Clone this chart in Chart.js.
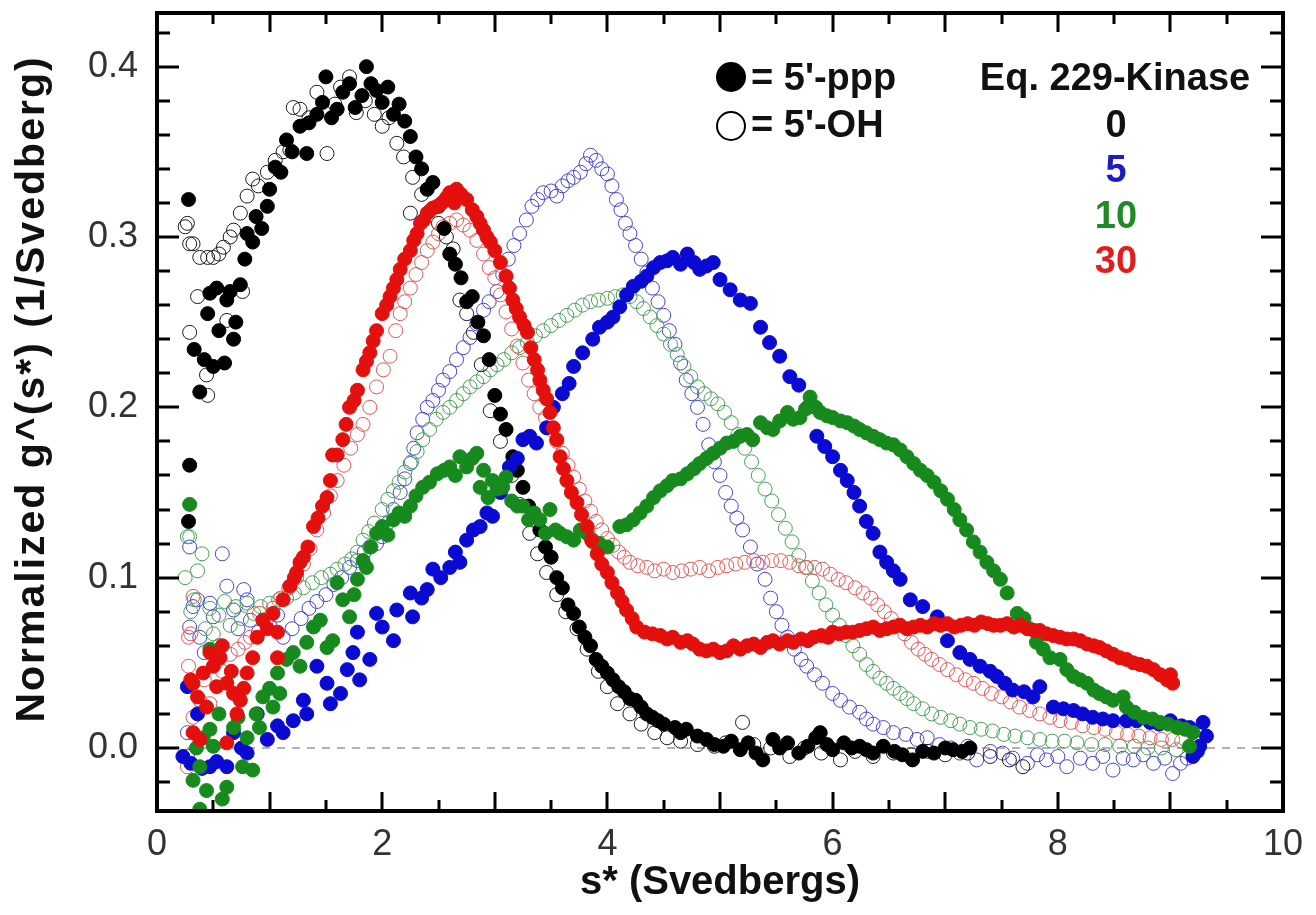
<!DOCTYPE html>
<html>
<head>
<meta charset="utf-8">
<title>g(s*) distributions</title>
<script src="https://cdn.jsdelivr.net/npm/chart.js@4"></script>
<style>
  html, body { margin: 0; padding: 0; background: #fff; }
  canvas { display: block; }
</style>
</head>
<body>
<canvas id="gs" width="1316" height="915"></canvas>
<script>
// s* (Svedbergs) vs normalized g^(s*), pairs of [s, g]
// filled = 5'-ppp, open = 5'-OH, one pair per kinase equivalent (0, 5, 10, 30)

const ppp0 = [[0.28,0.322],[0.29,0.166],[0.28,0.133],[0.33,0.234],[0.38,0.209],[0.42,0.228],[0.45,0.255],[0.47,0.267],[0.5,0.224],[0.53,0.27],[0.55,0.245],[0.6,0.226],[0.62,0.263],[0.65,0.268],[0.68,0.24],[0.7,0.25],[0.74,0.272],[0.78,0.287],[0.8,0.302],[0.85,0.297],[0.88,0.312],[0.93,0.305],[0.98,0.318],[1.0,0.328],[1.05,0.341],[1.1,0.338],[1.15,0.357],[1.2,0.35],[1.27,0.365],[1.33,0.349],[1.35,0.367],[1.42,0.372],[1.47,0.379],[1.5,0.394],[1.55,0.37],[1.6,0.375],[1.65,0.385],[1.71,0.39],[1.76,0.376],[1.82,0.383],[1.86,0.4],[1.9,0.39],[1.95,0.386],[2.0,0.379],[2.05,0.388],[2.1,0.372],[2.15,0.378],[2.2,0.368],[2.25,0.359],[2.3,0.347],[2.35,0.34],[2.4,0.328],[2.45,0.332],[2.5,0.318],[2.55,0.305],[2.6,0.29],[2.65,0.284],[2.7,0.276],[2.75,0.262],[2.8,0.265],[2.85,0.25],[2.9,0.242],[2.95,0.228],[3.0,0.207],[3.05,0.196],[3.1,0.187],[3.16,0.171],[3.2,0.163],[3.25,0.153],[3.3,0.142],[3.35,0.136],[3.4,0.128],[3.45,0.118],[3.5,0.112],[3.55,0.1],[3.6,0.094],[3.65,0.084],[3.7,0.079],[3.75,0.071],[3.8,0.065],[3.85,0.06],[3.9,0.052],[3.95,0.048],[4.0,0.044],[4.05,0.04],[4.1,0.036],[4.15,0.033],[4.2,0.029],[4.25,0.028],[4.3,0.024],[4.35,0.02],[4.4,0.018],[4.45,0.016],[4.5,0.014],[4.6,0.012],[4.65,0.009],[4.7,0.011],[4.8,0.007],[4.88,0.005],[4.95,0.002],[5.03,0.001],[5.1,0.004],[5.18,-0.001],[5.25,0.003],[5.32,-0.003],[5.38,-0.007],[5.47,0.005],[5.53,0.0],[5.6,0.003],[5.7,-0.003],[5.78,0.001],[5.85,0.006],[5.89,0.009],[5.95,0.002],[6.0,-0.001],[6.1,0.003],[6.17,0.0],[6.24,0.001],[6.3,-0.001],[6.36,-0.003],[6.45,0.001],[6.55,-0.002],[6.62,-0.004],[6.71,-0.007],[6.8,-0.002],[6.9,-0.003],[7.0,0.0],[7.07,-0.001],[7.15,-0.002],[7.22,0.0]];

const oh0 = [[0.25,0.306],[0.27,0.308],[0.29,0.244],[0.29,0.296],[0.32,0.296],[0.36,0.265],[0.38,0.288],[0.44,0.219],[0.45,0.207],[0.45,0.288],[0.5,0.288],[0.55,0.29],[0.59,0.294],[0.62,0.251],[0.65,0.3],[0.68,0.304],[0.74,0.314],[0.76,0.268],[0.8,0.324],[0.85,0.334],[0.9,0.33],[0.98,0.338],[1.05,0.345],[1.12,0.35],[1.18,0.351],[1.21,0.376],[1.27,0.375],[1.35,0.37],[1.42,0.385],[1.51,0.349],[1.58,0.378],[1.63,0.388],[1.71,0.394],[1.77,0.373],[1.85,0.38],[1.93,0.372],[2.0,0.365],[2.06,0.37],[2.13,0.355],[2.19,0.347],[2.25,0.314],[2.27,0.335],[2.35,0.325],[2.42,0.315],[2.5,0.308],[2.57,0.3],[2.63,0.293],[2.69,0.263],[2.75,0.255],[2.81,0.244],[2.88,0.225],[2.96,0.198],[3.05,0.18],[3.15,0.16],[3.22,0.143],[3.31,0.126],[3.38,0.114],[3.46,0.103],[3.55,0.09],[3.63,0.08],[3.73,0.07],[3.82,0.058],[3.92,0.045],[4.0,0.036],[4.09,0.026],[4.2,0.02],[4.3,0.014],[4.42,0.009],[4.53,0.006],[4.65,0.004],[4.8,0.002],[4.95,0.001],[5.05,0.003],[5.2,0.015],[5.3,0.002],[5.45,0.0],[5.62,-0.005],[5.75,0.0],[5.9,-0.003],[6.07,-0.007],[6.2,-0.002],[6.36,-0.005],[6.54,-0.003],[6.7,-0.004],[6.85,-0.002],[7.0,-0.004],[7.2,-0.003],[7.4,-0.005],[7.57,-0.007],[7.69,-0.011]];

const ppp5 = [[0.23,-0.005],[0.27,0.036],[0.3,-0.009],[0.36,0.02],[0.4,-0.012],[0.47,-0.011],[0.53,-0.008],[0.62,-0.011],[0.68,0.009],[0.75,0.0],[0.8,-0.003],[0.89,0.02],[0.98,0.005],[1.07,0.013],[1.12,0.009],[1.21,0.016],[1.3,0.028],[1.33,0.02],[1.42,0.048],[1.51,0.038],[1.54,0.026],[1.63,0.032],[1.69,0.046],[1.74,0.056],[1.78,0.068],[1.8,0.04],[1.89,0.052],[1.95,0.079],[2.0,0.071],[2.1,0.063],[2.13,0.081],[2.25,0.091],[2.27,0.077],[2.35,0.088],[2.4,0.093],[2.45,0.105],[2.52,0.1],[2.6,0.106],[2.65,0.115],[2.69,0.109],[2.75,0.122],[2.81,0.128],[2.87,0.13],[2.93,0.138],[2.98,0.136],[3.05,0.15],[3.13,0.165],[3.2,0.17],[3.25,0.181],[3.31,0.183],[3.37,0.179],[3.46,0.188],[3.52,0.2],[3.6,0.208],[3.66,0.214],[3.7,0.224],[3.78,0.232],[3.87,0.24],[3.93,0.247],[4.0,0.25],[4.05,0.253],[4.11,0.259],[4.17,0.266],[4.23,0.271],[4.3,0.274],[4.35,0.277],[4.41,0.282],[4.47,0.285],[4.53,0.286],[4.58,0.288],[4.65,0.284],[4.71,0.29],[4.77,0.285],[4.82,0.281],[4.88,0.283],[4.94,0.285],[5.0,0.275],[5.09,0.269],[5.18,0.263],[5.27,0.261],[5.36,0.247],[5.44,0.238],[5.53,0.23],[5.62,0.218],[5.7,0.213],[5.78,0.2],[5.86,0.183],[5.93,0.177],[6.0,0.171],[6.07,0.163],[6.13,0.157],[6.19,0.15],[6.24,0.142],[6.3,0.133],[6.36,0.126],[6.42,0.115],[6.48,0.109],[6.54,0.104],[6.6,0.099],[6.69,0.087],[6.8,0.083],[6.93,0.077],[7.02,0.063],[7.13,0.056],[7.22,0.052],[7.31,0.048],[7.4,0.045],[7.46,0.042],[7.53,0.038],[7.6,0.034],[7.7,0.033],[7.78,0.03],[7.84,0.036],[7.96,0.024],[8.05,0.023],[8.14,0.022],[8.22,0.02],[8.31,0.018],[8.4,0.017],[8.49,0.016],[8.61,0.016],[8.7,0.016],[8.82,0.015],[8.9,0.014],[9.0,0.016],[9.1,0.013],[9.17,0.012],[9.2,-0.005],[9.24,-0.002],[9.26,0.001],[9.29,0.015],[9.32,0.007]];

const oh5 = [[0.27,0.009],[0.27,-0.005],[0.29,0.118],[0.29,0.071],[0.32,0.083],[0.36,0.087],[0.38,0.065],[0.42,0.056],[0.47,0.085],[0.5,0.077],[0.55,0.06],[0.58,0.114],[0.62,0.095],[0.68,0.081],[0.72,0.07],[0.77,0.093],[0.8,0.087],[0.83,0.075],[0.9,0.068],[1.0,0.072],[1.07,0.078],[1.12,0.065],[1.2,0.07],[1.28,0.076],[1.35,0.082],[1.42,0.086],[1.5,0.09],[1.57,0.096],[1.64,0.1],[1.71,0.106],[1.78,0.11],[1.84,0.115],[1.89,0.118],[1.95,0.12],[2.0,0.124],[2.05,0.132],[2.1,0.14],[2.16,0.15],[2.2,0.158],[2.25,0.167],[2.28,0.176],[2.31,0.185],[2.36,0.193],[2.4,0.2],[2.45,0.204],[2.5,0.21],[2.54,0.216],[2.6,0.221],[2.66,0.228],[2.72,0.235],[2.78,0.241],[2.84,0.249],[2.9,0.257],[2.95,0.262],[3.02,0.268],[3.07,0.278],[3.12,0.287],[3.17,0.295],[3.22,0.302],[3.28,0.31],[3.33,0.318],[3.38,0.322],[3.43,0.326],[3.5,0.327],[3.55,0.324],[3.6,0.33],[3.65,0.333],[3.7,0.335],[3.76,0.338],[3.81,0.343],[3.85,0.348],[3.9,0.345],[3.95,0.34],[4.0,0.337],[4.04,0.33],[4.08,0.322],[4.12,0.316],[4.16,0.308],[4.2,0.302],[4.25,0.295],[4.3,0.287],[4.35,0.279],[4.4,0.27],[4.45,0.262],[4.5,0.254],[4.55,0.245],[4.6,0.237],[4.65,0.226],[4.7,0.216],[4.75,0.208],[4.8,0.2],[4.85,0.19],[4.9,0.178],[4.95,0.168],[5.0,0.16],[5.05,0.15],[5.1,0.142],[5.15,0.135],[5.2,0.128],[5.27,0.118],[5.33,0.108],[5.4,0.099],[5.45,0.088],[5.5,0.08],[5.55,0.072],[5.6,0.065],[5.66,0.058],[5.72,0.052],[5.77,0.048],[5.84,0.043],[5.91,0.038],[6.0,0.032],[6.07,0.028],[6.15,0.024],[6.24,0.021],[6.3,0.017],[6.36,0.014],[6.45,0.012],[6.54,0.009],[6.65,0.008],[6.75,0.005],[6.84,0.006],[6.95,0.002],[7.05,0.0],[7.13,-0.003],[7.2,0.001],[7.28,-0.007],[7.4,-0.002],[7.51,-0.003],[7.6,-0.006],[7.73,-0.009],[7.82,-0.004],[7.9,-0.007],[8.0,-0.005],[8.08,-0.011],[8.2,-0.006],[8.31,-0.009],[8.4,-0.005],[8.49,-0.013],[8.58,-0.006],[8.67,-0.007],[8.76,-0.004],[8.85,-0.009],[8.95,-0.006],[9.02,-0.015],[9.09,-0.009],[9.15,-0.006]];

const ppp10 = [[0.29,0.143],[0.32,-0.019],[0.35,0.0],[0.38,-0.036],[0.38,-0.011],[0.41,0.006],[0.44,-0.025],[0.47,0.011],[0.47,0.058],[0.5,0.001],[0.55,0.02],[0.58,-0.03],[0.62,-0.023],[0.68,0.012],[0.72,0.018],[0.76,-0.011],[0.8,0.006],[0.85,-0.013],[0.88,0.02],[0.91,0.012],[0.94,0.03],[1.0,0.035],[1.03,0.024],[1.07,0.044],[1.09,0.032],[1.15,0.052],[1.21,0.056],[1.27,0.048],[1.33,0.062],[1.39,0.071],[1.45,0.075],[1.51,0.059],[1.56,0.063],[1.6,0.097],[1.65,0.087],[1.71,0.077],[1.75,0.09],[1.78,0.099],[1.83,0.11],[1.86,0.106],[1.9,0.118],[1.95,0.126],[2.0,0.13],[2.05,0.125],[2.1,0.134],[2.15,0.138],[2.2,0.136],[2.25,0.142],[2.3,0.148],[2.36,0.153],[2.42,0.156],[2.49,0.161],[2.55,0.163],[2.6,0.165],[2.65,0.16],[2.69,0.171],[2.75,0.165],[2.8,0.17],[2.84,0.173],[2.87,0.153],[2.9,0.163],[2.94,0.147],[2.98,0.157],[3.02,0.152],[3.07,0.153],[3.1,0.159],[3.15,0.145],[3.2,0.142],[3.25,0.142],[3.3,0.134],[3.35,0.138],[3.4,0.134],[3.45,0.126],[3.49,0.14],[3.54,0.128],[3.58,0.126],[3.64,0.124],[3.7,0.122],[3.76,0.128],[3.82,0.126],[3.87,0.121],[3.93,0.12],[4.0,0.118],[4.11,0.13],[4.17,0.131],[4.23,0.134],[4.29,0.138],[4.35,0.142],[4.41,0.147],[4.47,0.151],[4.53,0.154],[4.58,0.157],[4.65,0.158],[4.71,0.161],[4.77,0.164],[4.82,0.167],[4.88,0.17],[4.94,0.173],[5.0,0.176],[5.06,0.179],[5.12,0.18],[5.18,0.183],[5.24,0.184],[5.29,0.181],[5.36,0.191],[5.42,0.188],[5.47,0.187],[5.53,0.192],[5.6,0.197],[5.65,0.193],[5.71,0.194],[5.76,0.199],[5.8,0.206],[5.85,0.2],[5.89,0.197],[5.95,0.195],[6.0,0.194],[6.07,0.192],[6.13,0.191],[6.19,0.189],[6.24,0.187],[6.3,0.185],[6.36,0.183],[6.42,0.181],[6.48,0.179],[6.54,0.178],[6.6,0.175],[6.66,0.171],[6.72,0.167],[6.78,0.163],[6.84,0.16],[6.9,0.156],[6.96,0.151],[7.02,0.146],[7.08,0.14],[7.13,0.134],[7.19,0.128],[7.25,0.121],[7.31,0.115],[7.37,0.109],[7.43,0.104],[7.49,0.099],[7.55,0.091],[7.64,0.079],[7.7,0.076],[7.75,0.07],[7.81,0.062],[7.87,0.058],[7.93,0.053],[8.02,0.052],[8.08,0.046],[8.14,0.042],[8.2,0.04],[8.26,0.038],[8.32,0.034],[8.37,0.032],[8.43,0.03],[8.49,0.028],[8.58,0.03],[8.61,0.024],[8.68,0.021],[8.76,0.018],[8.84,0.017],[8.91,0.015],[8.98,0.014],[9.06,0.012],[9.13,0.011],[9.2,0.009],[9.17,0.001]];

const oh10 = [[0.25,0.1],[0.27,0.124],[0.29,0.124],[0.3,0.08],[0.33,0.087],[0.36,0.104],[0.4,0.114],[0.43,0.07],[0.47,0.082],[0.5,0.067],[0.55,0.078],[0.6,0.086],[0.65,0.072],[0.7,0.083],[0.75,0.076],[0.8,0.085],[0.86,0.079],[0.92,0.083],[1.0,0.085],[1.08,0.087],[1.15,0.088],[1.22,0.091],[1.3,0.094],[1.38,0.097],[1.46,0.1],[1.54,0.102],[1.6,0.105],[1.67,0.108],[1.73,0.111],[1.78,0.115],[1.83,0.122],[1.88,0.127],[1.93,0.132],[2.0,0.14],[2.05,0.146],[2.1,0.151],[2.15,0.156],[2.2,0.162],[2.26,0.168],[2.31,0.174],[2.36,0.181],[2.42,0.187],[2.48,0.193],[2.54,0.197],[2.6,0.2],[2.66,0.204],[2.72,0.208],[2.78,0.212],[2.84,0.215],[2.9,0.218],[2.96,0.222],[3.02,0.225],[3.08,0.228],[3.15,0.232],[3.22,0.235],[3.29,0.238],[3.36,0.242],[3.43,0.245],[3.5,0.248],[3.57,0.251],[3.64,0.254],[3.71,0.257],[3.78,0.26],[3.85,0.262],[3.92,0.263],[4.0,0.264],[4.07,0.265],[4.14,0.266],[4.2,0.265],[4.26,0.262],[4.32,0.258],[4.38,0.253],[4.44,0.248],[4.5,0.243],[4.56,0.237],[4.62,0.231],[4.68,0.224],[4.74,0.218],[4.8,0.212],[4.86,0.208],[4.92,0.205],[4.98,0.202],[5.04,0.197],[5.1,0.191],[5.16,0.184],[5.22,0.176],[5.28,0.168],[5.34,0.16],[5.4,0.152],[5.46,0.145],[5.52,0.137],[5.58,0.129],[5.64,0.121],[5.7,0.113],[5.76,0.106],[5.82,0.098],[5.88,0.091],[5.94,0.084],[6.0,0.078],[6.06,0.072],[6.12,0.066],[6.18,0.06],[6.24,0.055],[6.3,0.049],[6.36,0.045],[6.42,0.041],[6.48,0.038],[6.54,0.035],[6.6,0.032],[6.66,0.029],[6.72,0.026],[6.8,0.023],[6.88,0.02],[6.96,0.018],[7.05,0.016],[7.13,0.014],[7.22,0.012],[7.32,0.011],[7.42,0.01],[7.52,0.008],[7.62,0.007],[7.73,0.006],[7.84,0.005],[7.95,0.004],[8.06,0.004],[8.17,0.003],[8.3,0.002],[8.42,0.002],[8.55,0.001],[8.68,0.001],[8.8,0.0],[8.92,0.0],[9.05,-0.001]];

const ppp30 = [[0.3,0.04],[0.32,0.009],[0.32,0.038],[0.36,0.03],[0.38,0.005],[0.41,0.044],[0.44,0.024],[0.47,0.056],[0.5,0.048],[0.53,0.036],[0.56,0.053],[0.58,0.06],[0.62,0.038],[0.62,0.003],[0.66,0.045],[0.68,0.032],[0.71,0.02],[0.74,0.028],[0.77,0.035],[0.8,0.044],[0.85,0.053],[0.89,0.065],[0.94,0.075],[0.98,0.07],[1.03,0.079],[1.07,0.068],[1.07,0.053],[1.12,0.087],[1.18,0.095],[1.22,0.1],[1.24,0.103],[1.27,0.109],[1.3,0.112],[1.34,0.118],[1.39,0.13],[1.43,0.135],[1.47,0.142],[1.51,0.147],[1.54,0.157],[1.56,0.172],[1.6,0.172],[1.65,0.181],[1.68,0.19],[1.71,0.2],[1.75,0.204],[1.78,0.21],[1.83,0.222],[1.86,0.227],[1.89,0.232],[1.92,0.239],[1.95,0.245],[2.0,0.255],[2.04,0.26],[2.07,0.265],[2.1,0.27],[2.13,0.275],[2.16,0.281],[2.2,0.287],[2.25,0.292],[2.28,0.298],[2.31,0.302],[2.34,0.308],[2.37,0.31],[2.4,0.314],[2.45,0.317],[2.49,0.318],[2.53,0.32],[2.57,0.323],[2.6,0.326],[2.64,0.32],[2.66,0.328],[2.7,0.325],[2.75,0.322],[2.8,0.316],[2.84,0.312],[2.87,0.308],[2.9,0.304],[2.93,0.3],[2.96,0.297],[3.0,0.292],[3.05,0.285],[3.1,0.277],[3.13,0.27],[3.16,0.263],[3.19,0.258],[3.22,0.253],[3.26,0.248],[3.29,0.244],[3.32,0.235],[3.35,0.228],[3.38,0.222],[3.4,0.216],[3.43,0.21],[3.46,0.205],[3.49,0.197],[3.52,0.188],[3.55,0.181],[3.58,0.171],[3.61,0.164],[3.64,0.157],[3.68,0.15],[3.73,0.144],[3.77,0.137],[3.82,0.13],[3.86,0.122],[3.91,0.114],[3.95,0.108],[4.0,0.103],[4.04,0.097],[4.09,0.091],[4.13,0.086],[4.17,0.081],[4.22,0.076],[4.26,0.071],[4.33,0.068],[4.4,0.067],[4.47,0.066],[4.53,0.064],[4.58,0.065],[4.65,0.062],[4.71,0.063],[4.76,0.061],[4.82,0.058],[4.88,0.057],[4.94,0.058],[5.0,0.056],[5.06,0.057],[5.12,0.06],[5.18,0.058],[5.24,0.06],[5.3,0.061],[5.36,0.059],[5.42,0.062],[5.47,0.063],[5.53,0.061],[5.6,0.063],[5.65,0.062],[5.72,0.064],[5.78,0.063],[5.83,0.065],[5.9,0.066],[5.96,0.065],[6.0,0.068],[6.06,0.067],[6.12,0.068],[6.18,0.068],[6.24,0.069],[6.3,0.07],[6.36,0.071],[6.42,0.069],[6.48,0.07],[6.54,0.071],[6.6,0.072],[6.66,0.07],[6.72,0.071],[6.78,0.072],[6.84,0.071],[6.9,0.073],[6.96,0.072],[7.02,0.073],[7.08,0.071],[7.14,0.072],[7.2,0.073],[7.26,0.072],[7.32,0.074],[7.38,0.073],[7.43,0.072],[7.49,0.072],[7.55,0.073],[7.61,0.071],[7.67,0.072],[7.73,0.07],[7.79,0.069],[7.84,0.069],[7.9,0.067],[7.96,0.066],[8.02,0.065],[8.08,0.064],[8.14,0.064],[8.2,0.063],[8.26,0.061],[8.32,0.06],[8.37,0.059],[8.43,0.057],[8.49,0.055],[8.55,0.053],[8.61,0.052],[8.67,0.05],[8.73,0.049],[8.79,0.048],[8.85,0.046],[8.91,0.043],[8.97,0.04],[9.02,0.038],[9.0,0.043]];

const oh30 = [[0.27,-0.011],[0.28,0.065],[0.28,0.048],[0.3,0.067],[0.32,0.089],[0.32,0.018],[0.38,0.028],[0.42,0.04],[0.47,0.026],[0.52,0.05],[0.58,0.045],[0.65,0.055],[0.72,0.058],[0.78,0.062],[0.83,0.065],[0.91,0.079],[0.97,0.075],[1.03,0.082],[1.1,0.088],[1.17,0.094],[1.24,0.1],[1.3,0.108],[1.36,0.117],[1.42,0.128],[1.48,0.138],[1.54,0.148],[1.6,0.157],[1.66,0.166],[1.72,0.176],[1.78,0.184],[1.83,0.19],[1.89,0.2],[1.95,0.212],[2.01,0.222],[2.07,0.23],[2.12,0.245],[2.16,0.255],[2.2,0.262],[2.25,0.27],[2.3,0.278],[2.35,0.285],[2.4,0.292],[2.45,0.297],[2.5,0.302],[2.54,0.306],[2.6,0.308],[2.66,0.31],[2.72,0.307],[2.78,0.304],[2.84,0.298],[2.9,0.29],[2.95,0.282],[3.0,0.276],[3.05,0.266],[3.1,0.256],[3.15,0.246],[3.2,0.236],[3.25,0.226],[3.3,0.216],[3.35,0.208],[3.4,0.2],[3.45,0.194],[3.5,0.187],[3.55,0.18],[3.6,0.173],[3.65,0.166],[3.7,0.159],[3.75,0.152],[3.8,0.145],[3.85,0.139],[3.9,0.133],[3.95,0.128],[4.0,0.123],[4.05,0.119],[4.1,0.115],[4.15,0.112],[4.2,0.109],[4.27,0.107],[4.35,0.106],[4.42,0.104],[4.5,0.105],[4.58,0.103],[4.66,0.104],[4.74,0.105],[4.82,0.106],[4.9,0.104],[4.98,0.106],[5.06,0.107],[5.14,0.108],[5.22,0.109],[5.3,0.11],[5.38,0.109],[5.46,0.11],[5.54,0.11],[5.62,0.109],[5.7,0.107],[5.77,0.106],[5.84,0.106],[5.91,0.105],[5.98,0.102],[6.05,0.099],[6.12,0.097],[6.2,0.094],[6.27,0.091],[6.34,0.088],[6.4,0.084],[6.46,0.08],[6.52,0.076],[6.58,0.072],[6.64,0.067],[6.7,0.062],[6.76,0.058],[6.82,0.055],[6.88,0.052],[6.95,0.049],[7.02,0.046],[7.1,0.043],[7.18,0.04],[7.25,0.038],[7.33,0.035],[7.41,0.032],[7.5,0.03],[7.58,0.027],[7.66,0.024],[7.75,0.022],[7.84,0.02],[7.93,0.018],[8.02,0.016],[8.12,0.015],[8.22,0.013],[8.32,0.012],[8.42,0.011],[8.52,0.009],[8.62,0.008],[8.72,0.007],[8.82,0.006],[8.92,0.005],[9.02,0.005],[9.1,0.004]];

// axis labels
const xTickLabels = [0, 2, 4, 6, 8, 10];
const yTickLabels = [0.0, 0.1, 0.2, 0.3, 0.4];
const kinaseEq = ['0', '5', '10', '30'];

const FONT = '"Liberation Sans", Arial, Helvetica, sans-serif';
const COLORS = { black: '#000000', blue: '#0a0ad2', green: '#168a1c', red: '#e3100e' };
const OPEN = { black: '#1a1a1a', blue: '#4444d6', green: '#46a052', red: '#e65454' };

function toXY(pairs) {
    return pairs.map(p => ({ x: p[0], y: p[1] }));
}

function filled(pairs, c) {
    return { data: toXY(pairs), pointRadius: 7, pointBackgroundColor: c, pointBorderColor: c, pointBorderWidth: 1 };
}

function open(pairs, c) {
    return { data: toXY(pairs), pointRadius: 7, pointBackgroundColor: 'rgba(255,255,255,0)', pointBorderColor: c, pointBorderWidth: 1 };
}

// frame with inward ticks on all four sides, dashed zero line, legend block, axis titles
const framePlugin = {
    id: 'frame',
    beforeDatasetsDraw(chart) {
        const { ctx, chartArea: a, scales: { y } } = chart;
        const y0 = y.getPixelForValue(0);
        ctx.save();
        ctx.strokeStyle = '#b2b2b2';
        ctx.lineWidth = 2;
        ctx.setLineDash([8, 7]);
        ctx.beginPath();
        ctx.moveTo(a.left, y0);
        ctx.lineTo(a.right, y0);
        ctx.stroke();
        ctx.restore();
    },
    afterDatasetsDraw(chart) {
        const { ctx, chartArea: a, scales: { x, y } } = chart;
        ctx.save();
        ctx.strokeStyle = '#000';
        ctx.lineWidth = 3;
        ctx.beginPath();
        for (let i = 1; i < 20; i++) {
            const v = i / 2;
            const px = Math.round(x.getPixelForValue(v));
            const len = i % 2 === 0 ? 19 : 11;
            ctx.moveTo(px, a.bottom); ctx.lineTo(px, a.bottom - len);
            ctx.moveTo(px, a.top); ctx.lineTo(px, a.top + len);
        }
        for (let i = -1; i <= 21; i++) {
            const v = i * 0.02;
            const py = Math.round(y.getPixelForValue(v));
            if (py <= a.top + 2 || py >= a.bottom - 2) continue;
            const len = i % 5 === 0 ? 22 : 13;
            ctx.moveTo(a.left, py); ctx.lineTo(a.left + len, py);
            ctx.moveTo(a.right, py); ctx.lineTo(a.right - len, py);
        }
        ctx.stroke();
        ctx.lineWidth = 4;
        ctx.strokeRect(a.left, a.top, a.right - a.left, a.bottom - a.top);
        ctx.restore();
    },
    afterDraw(chart) {
        const { ctx, chartArea: a } = chart;
        ctx.save();
        ctx.fillStyle = '#111';
        ctx.font = 'bold 40px ' + FONT;
        ctx.textAlign = 'center';
        ctx.textBaseline = 'alphabetic';
        ctx.fillText('s* (Svedbergs)', (a.left + a.right) / 2, 894);
        ctx.save();
        ctx.translate(44, 389);
        ctx.rotate(-Math.PI / 2);
        ctx.font = 'bold 41px ' + FONT;
        ctx.letterSpacing = '2px';
        ctx.fillText('Normalized g^(s*) (1/Svedberg)', 0, 0);
        ctx.restore();

        // marker key
        ctx.beginPath();
        ctx.arc(731, 77, 15, 0, Math.PI * 2);
        ctx.fillStyle = '#000';
        ctx.fill();
        ctx.beginPath();
        ctx.arc(731, 126, 14, 0, Math.PI * 2);
        ctx.lineWidth = 2;
        ctx.strokeStyle = '#000';
        ctx.stroke();
        ctx.font = 'bold 38px ' + FONT;
        ctx.textAlign = 'left';
        ctx.fillStyle = '#111';
        ctx.fillText("= 5'-ppp", 751, 90);
        ctx.fillText("= 5'-OH", 751, 137);

        ctx.textAlign = 'center';
        ctx.fillText('Eq. 229-Kinase', 1115, 90);
        const keyColors = ['#111', '#1c1cc0', '#218a26', '#e01e1e'];
        kinaseEq.forEach((t, i) => {
            ctx.fillStyle = keyColors[i];
            ctx.fillText(t, 1116, 137 + i * 45.3);
        });
        ctx.restore();
    }
};

new Chart(document.getElementById('gs'), {
    type: 'scatter',
    data: {
        datasets: [
            filled(ppp30, COLORS.red),
            filled(ppp10, COLORS.green),
            filled(ppp5, COLORS.blue),
            filled(ppp0, COLORS.black),
            open(oh0, OPEN.black),
            open(oh30, OPEN.red),
            open(oh10, OPEN.green),
            open(oh5, OPEN.blue)
        ]
    },
    options: {
        responsive: false,
        animation: false,
        devicePixelRatio: 1,
        events: [],
        layout: { padding: { top: 13, right: 33, left: 0, bottom: 0 } },
        plugins: { legend: { display: false }, tooltip: { enabled: false } },
        scales: {
            x: {
                type: 'linear',
                min: 0,
                max: 10,
                border: { display: false },
                grid: { display: false, drawTicks: false },
                afterBuildTicks: s => { s.ticks = xTickLabels.map(v => ({ value: v })); },
                afterFit: s => { s.height = 104; s.paddingLeft = 0; s.paddingRight = 0; },
                ticks: {
                    font: { family: FONT, size: 36 },
                    color: '#333',
                    padding: 12,
                    maxRotation: 0,
                    autoSkip: false,
                    callback: v => String(v)
                }
            },
            y: {
                type: 'linear',
                min: -0.037,
                max: 0.4315,
                border: { display: false },
                grid: { display: false, drawTicks: false },
                afterBuildTicks: s => { s.ticks = yTickLabels.map(v => ({ value: v })); },
                afterFit: s => { s.width = 157; s.paddingTop = 0; s.paddingBottom = 0; },
                ticks: {
                    font: { family: FONT, size: 36 },
                    color: '#333',
                    padding: 19,
                    autoSkip: false,
                    callback: v => v.toFixed(1)
                }
            }
        }
    },
    plugins: [framePlugin]
});
</script>
</body>
</html>
